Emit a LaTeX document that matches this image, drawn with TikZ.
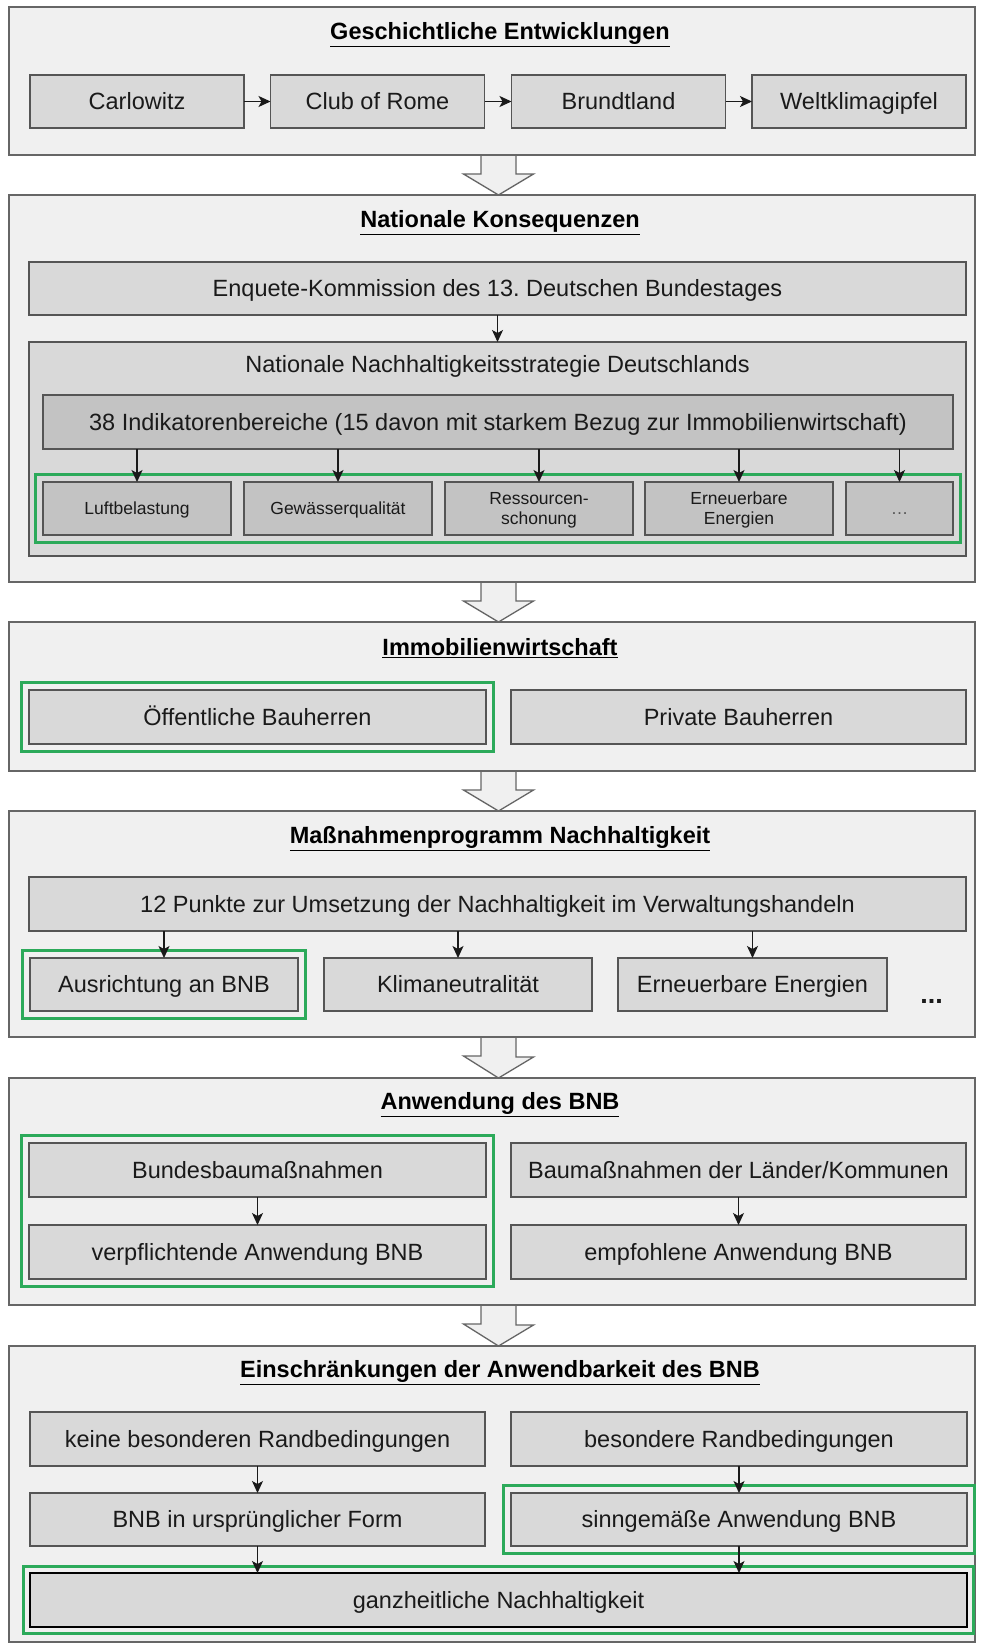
\documentclass[tikz,border=0pt]{standalone}
\usepackage{fontspec}
\setmainfont{Liberation Sans}
\usetikzlibrary{arrows.meta,fit,backgrounds}
\definecolor{panelfill}{HTML}{F0F0F0}
\definecolor{panelline}{HTML}{666666}
\definecolor{boxfill}{HTML}{D9D9D9}
\definecolor{indfill}{HTML}{C3C3C3}
\definecolor{boxline}{HTML}{555555}
\definecolor{hlgreen}{RGB}{44,170,90}
\definecolor{txt}{HTML}{1A1A1A}
\frenchspacing

% hollow block arrow between two stacked panels
\newcommand\panelarrow[2]{%
  \draw[blockarrow] ([xshift=-11pt]#1.south) -- ++(0,19) -- ++(-17.5,0)
    -- ([xshift=6.5pt]#2.north) -- ++(35,-21) -- ++(-17.5,0) -- ++(0,-19);}

\begin{document}
\begin{tikzpicture}[x=1pt,y=-1pt,
  panel/.style={draw=panelline,fill=panelfill,line width=1.5pt,inner sep=0pt,outer sep=0pt,minimum width=966pt},
  blockarrow/.style={draw=panelline,fill=panelfill,line width=1.3pt,line join=miter},
  box/.style={draw=boxline,fill=boxfill,line width=1.3pt,inner sep=0pt,outer sep=0pt,
    text=txt,align=center,font=\fontsize{23.5}{27}\selectfont,text height=16.8pt,text depth=0pt,
    minimum height=53pt},
  ibox/.style={box,fill=indfill},
  sbox/.style={ibox,font=\fontsize{17.5}{20}\selectfont,text height=12.5pt,minimum width=188pt},
  twoline/.style={text height=32.5pt},
  plain/.style={text=txt,inner sep=0pt,font=\fontsize{23.5}{27}\selectfont},
  heading/.style={text=black,inner sep=0pt,anchor=base,font=\fontsize{23.5}{27}\bfseries\selectfont},
  hl/.style={draw=hlgreen,line width=3pt,inner sep=7.5pt},
  conn/.style={-{Stealth[length=12pt,width=11pt,inset=3pt]},line width=1.2pt,draw=txt},
]
\useasboundingbox (0,0) rectangle (982,1645);

% panel frames
\path (492,81) node[panel,minimum height=148pt] (p1) {};
\path (492,388.5) node[panel,minimum height=387pt] (p2) {};
\path (492,696.5) node[panel,minimum height=149pt] (p3) {};
\path (492,924) node[panel,minimum height=226pt] (p4) {};
\path (492,1191.5) node[panel,minimum height=227pt] (p5) {};
\path (492,1494) node[panel,minimum height=296pt] (p6) {};
% block arrows sit below the panel borders
\begin{scope}[on background layer]
\fill[white] (0,0) rectangle (982,1645);
\panelarrow{p1}{p2}
\panelarrow{p2}{p3}
\panelarrow{p3}{p4}
\panelarrow{p4}{p5}
\panelarrow{p5}{p6}
\end{scope}

% 1: Geschichtliche Entwicklungen
\node[heading] (t1) at (500,39.5) {\underline{Geschichtliche Entwicklungen}};
\node[box,minimum width=214pt] (carl) at (137,101.5) {Carlowitz};
\node[box,minimum width=214pt] (club) at (377.5,101.5) {Club of Rome};
\node[box,minimum width=214pt] (brund) at (618.5,101.5) {Brundtland};
\node[box,minimum width=214pt] (welt) at (859,101.5) {Weltklimagipfel};
\draw[conn] (carl.east) -- (club.west);
\draw[conn] (club.east) -- (brund.west);
\draw[conn] (brund.east) -- (welt.west);

% 2: Nationale Konsequenzen
\node[heading] (t2) at (500,227.5) {\underline{Nationale Konsequenzen}};
\node[box,minimum width=937pt] (enq) at (497.5,288.5) {Enquete-Kommission des 13. Deutschen Bundestages};
\node[box,minimum width=937pt,minimum height=214pt] (nns) at (497.5,449) {};
\node[plain] (nnst) at (497.5,366) {Nationale Nachhaltigkeitsstrategie Deutschlands};
\node[ibox,minimum width=910pt,minimum height=54pt] (ind) at (498,422) {38 Indikatorenbereiche (15 davon mit starkem Bezug zur Immobilienwirtschaft)};
\node[sbox] (luft) at (137,508.5) {Luftbelastung};
\node[sbox] (gew) at (338,508.5) {Gewässerqualität};
\node[sbox,twoline] (res) at (539,508.5) {Ressourcen-\\schonung};
\node[sbox,twoline] (ern) at (739,508.5) {Erneuerbare\\Energien};
\node[sbox,minimum width=107pt,text=boxline] (more) at (899.5,508.5) {…};
\node[hl,fit=(luft)(more)] (hlind) {};
\draw[conn] (enq.south) -- (nns.north);
\draw[conn] (luft.north |- ind.south) -- (luft.north);
\draw[conn] (gew.north |- ind.south) -- (gew.north);
\draw[conn] (res.north |- ind.south) -- (res.north);
\draw[conn] (ern.north |- ind.south) -- (ern.north);
\draw[conn] (more.north |- ind.south) -- (more.north);

% 3: Immobilienwirtschaft
\node[heading] (t3) at (500,655.5) {\underline{Immobilienwirtschaft}};
\node[box,minimum width=457pt,minimum height=54pt] (oeff) at (257.5,717) {Öffentliche Bauherren};
\node[box,minimum width=455pt,minimum height=54pt] (priv) at (738.5,717) {Private Bauherren};
\node[hl,fit=(oeff)] (hloeff) {};

% 4: Maßnahmenprogramm Nachhaltigkeit
\node[heading] (t4) at (500,843.5) {\underline{Maßnahmenprogramm Nachhaltigkeit}};
\node[box,minimum width=937pt,minimum height=54pt] (punkte) at (497.5,904) {12 Punkte zur Umsetzung der Nachhaltigkeit im Verwaltungshandeln};
\node[box,minimum width=268pt] (ausr) at (164,984.5) {Ausrichtung an BNB};
\node[box,minimum width=268pt] (klima) at (458,984.5) {Klimaneutralität};
\node[box,minimum width=269pt] (eren) at (752.5,984.5) {Erneuerbare Energien};
\node[plain,font=\fontsize{27}{30}\bfseries\selectfont] (dots) at (931.5,1001) {...};
\node[hl,fit=(ausr)] (hlausr) {};
\draw[conn] (ausr.north |- punkte.south) -- (ausr.north);
\draw[conn] (klima.north |- punkte.south) -- (klima.north);
\draw[conn] (eren.north |- punkte.south) -- (eren.north);

% 5: Anwendung des BNB
\node[heading] (t5) at (500,1109.5) {\underline{Anwendung des BNB}};
\node[box,minimum width=457pt,minimum height=54pt] (bund) at (257.5,1170) {Bundesbaumaßnahmen};
\node[box,minimum width=457pt,minimum height=54pt] (verpf) at (257.5,1252) {verpflichtende Anwendung BNB};
\node[box,minimum width=455pt,minimum height=54pt] (laend) at (738.5,1170) {Baumaßnahmen der Länder/Kommunen};
\node[box,minimum width=455pt,minimum height=54pt] (empf) at (738.5,1252) {empfohlene Anwendung BNB};
\node[hl,fit=(bund)(verpf)] (hlbund) {};
\draw[conn] (bund.south) -- (verpf.north);
\draw[conn] (laend.south) -- (empf.north);

% 6: Einschränkungen der Anwendbarkeit des BNB
\node[heading] (t6) at (500,1377.5) {\underline{Einschränkungen der Anwendbarkeit des BNB}};
\node[box,minimum width=455pt,minimum height=54pt] (keine) at (257.5,1439) {keine besonderen Randbedingungen};
\node[box,minimum width=455pt,minimum height=53pt] (urspr) at (257.5,1519.5) {BNB in ursprünglicher Form};
\node[box,minimum width=456pt,minimum height=54pt] (beson) at (739,1439) {besondere Randbedingungen};
\node[box,minimum width=456pt,minimum height=53pt] (sinn) at (739,1519.5) {sinngemäße Anwendung BNB};
\node[box,draw=black,line width=2.6pt,minimum width=937pt,minimum height=54pt] (ganz) at (498.5,1600) {ganzheitliche Nachhaltigkeit};
\node[hl,fit=(sinn)] (hlsinn) {};
\node[hl,fit=(ganz),inner sep=6.5pt] (hlganz) {};
\draw[conn] (keine.south) -- (urspr.north);
\draw[conn] (urspr.south) -- (urspr.south |- ganz.north);
\draw[conn] (beson.south) -- (sinn.north);
\draw[conn] (sinn.south) -- (sinn.south |- ganz.north);
\end{tikzpicture}
\end{document}
